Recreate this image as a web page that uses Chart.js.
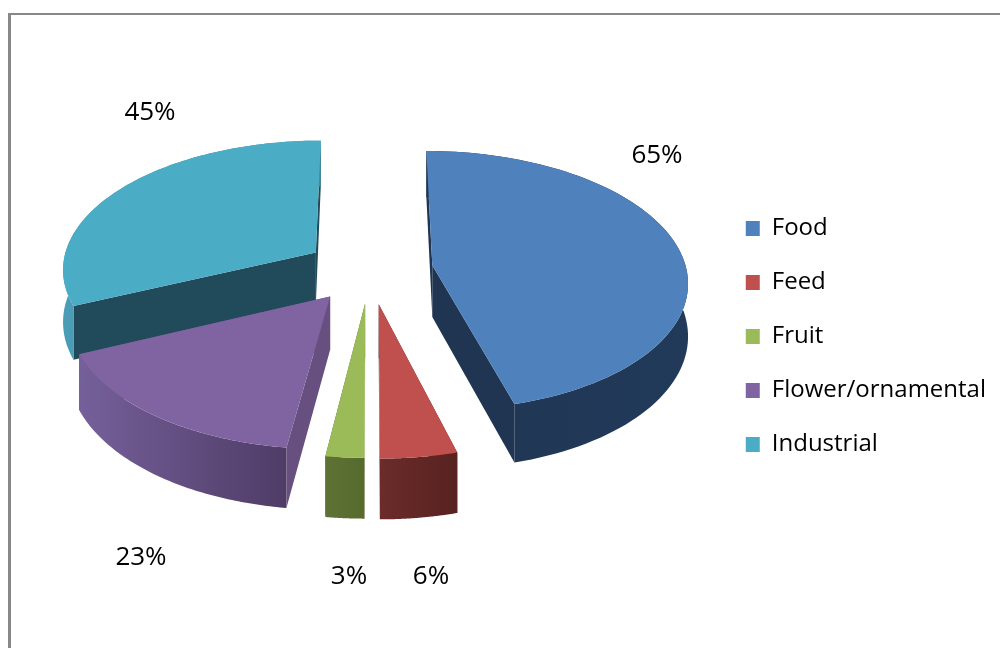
<!DOCTYPE html>
<html>
<head>
<meta charset="utf-8">
<script src="https://cdn.jsdelivr.net/npm/chart.js@4"></script>
<style>
  html, body { margin: 0; background: #fff; overflow: hidden; }
  #frame { position: absolute; left: 8px; top: 13px; width: 992px; height: 635px; border-top: 2px solid #888; border-left: 3px solid #888; box-sizing: border-box; }
  canvas { position: absolute; left: 0; top: 0; }
</style>
</head>
<body>
<div id="frame"></div>
<canvas id="myChart" width="1000" height="648"></canvas>
<script>
// data
const categories = ['Food', 'Feed', 'Fruit', 'Flower/ornamental', 'Industrial'];
const shares = [65, 6, 3, 23, 45];

// colours
const topColors = ['#4f81bd', '#c0504d', '#9bbb59', '#8064a2', '#4bacc6'];
const cutColors = ['#1f3552', '#5f2624', '#5c6f33', '#67507f', '#214b5a'];
const wallColors = [
  ['#1f3552', '#223a5a'],
  ['#6b2c2a', '#572220'],
  ['#5f7235', '#566a2e'],
  ['#75609a', '#4f3c66'],
  ['#4a9db5', '#3f8aa0']
];

// where the percent labels sit
const labelSpots = [[657, 156], [431, 577], [349, 577], [141, 558], [150, 113]];

// 3d look: centre, flatten, perspective, thickness, small per slice fixes
const CX = 375, CY = 269, FLAT = 0.506, PERSP = 0.118, THICK = 52;
const sliceNudge = [[1, 0], [-4, 6], [-6, 5], [-10, 4], [-12, -1]];
const drawOrder = [4, 0, 3, 2, 1];

function project(arc, i, angle, frac, z) {
  const R = arc.outerRadius;
  const mid = (arc.startAngle + arc.endAngle) / 2;
  const X = arc.options.offset * Math.cos(mid) + R * frac * Math.cos(angle);
  const Y = arc.options.offset * Math.sin(mid) + R * frac * Math.sin(angle);
  const w = 1 - PERSP * Y / R;
  return [CX + sliceNudge[i][0] + X / w, CY + sliceNudge[i][1] + FLAT * Y / w + z * THICK / w];
}

function fillPoly(ctx, pts, style) {
  ctx.beginPath();
  pts.forEach((p, n) => n ? ctx.lineTo(p[0], p[1]) : ctx.moveTo(p[0], p[1]));
  ctx.closePath();
  ctx.fillStyle = style;
  ctx.fill();
}

const pie3d = {
  id: 'pie3d',
  beforeDatasetDraw(chart) {
    const ctx = chart.ctx;
    const arcs = chart.getDatasetMeta(0).data;
    drawOrder.forEach(i => {
      const arc = arcs[i];
      const rim = [];
      for (let n = 0; n <= 90; n++) {
        rim.push(arc.startAngle + (arc.endAngle - arc.startAngle) * n / 90);
      }
      const top = rim.map(a => project(arc, i, a, 1, 0));
      const low = rim.map(a => project(arc, i, a, 1, 1));
      const apexTop = project(arc, i, 0, 0, 0);
      const apexLow = project(arc, i, 0, 0, 1);

      // cut faces first
      fillPoly(ctx, [apexTop, top[0], low[0], apexLow], cutColors[i]);
      fillPoly(ctx, [apexTop, top[90], low[90], apexLow], cutColors[i]);

      // outside wall
      const xs = top.map(p => p[0]);
      const grad = ctx.createLinearGradient(Math.min(...xs), 0, Math.max(...xs), 0);
      grad.addColorStop(0, wallColors[i][0]);
      grad.addColorStop(1, wallColors[i][1]);
      fillPoly(ctx, top.concat(low.slice().reverse()), grad);

      // top face
      fillPoly(ctx, [apexTop].concat(top), topColors[i]);
    });

    ctx.save();
    ctx.fillStyle = '#000';
    ctx.font = '26px "Open Sans"';
    ctx.textAlign = 'center';
    ctx.textBaseline = 'middle';
    shares.forEach((v, i) => ctx.fillText(v + '%', labelSpots[i][0], labelSpots[i][1]));
    ctx.restore();
    return false;
  }
};

new Chart(document.getElementById('myChart'), {
  type: 'pie',
  data: {
    labels: categories,
    datasets: [{
      data: shares,
      backgroundColor: topColors,
      borderWidth: 0,
      offset: 57,
      radius: 254
    }]
  },
  plugins: [pie3d],
  options: {
    responsive: false,
    animation: false,
    events: [],
    layout: { padding: { top: 25, right: 4 } },
    plugins: {
      tooltip: { enabled: false },
      legend: {
        position: 'right',
        labels: {
          boxWidth: 14,
          boxHeight: 15,
          padding: 30,
          color: '#000',
          font: { family: 'Open Sans', size: 24 }
        }
      }
    }
  }
});
</script>
</body>
</html>
